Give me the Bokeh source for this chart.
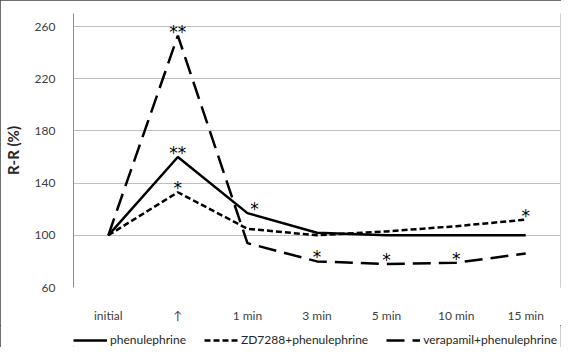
from bokeh.plotting import figure
from bokeh.layouts import column
from bokeh.models import Legend, LegendItem, FixedTicker, Range1d, ColumnDataSource
from bokeh.core.properties import value
from bokeh.embed import file_html
from bokeh.resources import INLINE

categories = ["initial", "\u2191", "1 min", "3 min", "5 min", "10 min", "15 min"]
phenulephrine = [100, 160, 117, 102, 100, 100, 100]
zd7288 = [100, 133, 105, 100, 103, 107, 112]
verapamil = [100, 253, 94, 80, 78, 79, 86]
y_ticks = [60, 100, 140, 180, 220, 260]
legend_labels = ["phenulephrine", "ZD7288+phenulephrine", "verapamil+phenulephrine"]

sig_series = ["verapamil", "phenulephrine", "zd7288", "phenulephrine",
              "zd7288", "verapamil", "verapamil", "verapamil"]
sig_category = ["\u2191", "\u2191", "\u2191", "1 min", "15 min", "3 min", "5 min", "10 min"]
sig_text = ["**", "**", "*", "*", "*", "*", "*", "*"]

FONT = "Lato"
series = {"phenulephrine": phenulephrine, "zd7288": zd7288, "verapamil": verapamil}
dashes = ["solid", "6 3", "18 8"]

p = figure(x_range=categories, y_range=Range1d(60, 270),
           width=561, height=325, output_backend="svg", toolbar_location=None,
           min_border_left=72, min_border_right=1, min_border_top=13, min_border_bottom=31)
p.outline_line_color = None
p.background_fill_color = "white"

for vals, d in zip([phenulephrine, zd7288, verapamil], dashes):
    p.line(categories, vals, line_color="black", line_width=2.5, line_dash=d)

sy = [series[s][categories.index(c)] for s, c in zip(sig_series, sig_category)]
xoff = [7 if c == "1 min" else 0 for c in sig_category]
src = ColumnDataSource(dict(x=sig_category, y=sy, t=sig_text, xo=xoff))
p.text(x="x", y="y", text="t", source=src, x_offset="xo", y_offset=-4,
       text_align="center", text_baseline="alphabetic", text_font=value("DejaVu Sans"),
       text_font_size="17px", text_color="black")

p.xgrid.grid_line_color = None
p.ygrid.grid_line_color = "#bfbfbf"
p.ygrid.grid_line_width = 1
p.yaxis.ticker = FixedTicker(ticks=y_ticks)
p.yaxis.axis_line_color = "#8c8c8c"
p.yaxis.major_tick_line_color = None
p.yaxis.minor_tick_line_color = None
p.yaxis.major_label_standoff = 12
p.yaxis.axis_label = "R-R (%)"
p.yaxis.axis_label_text_font = FONT
p.yaxis.axis_label_text_font_style = "bold"
p.yaxis.axis_label_text_font_size = "15px"
p.yaxis.axis_label_text_color = "#262626"
p.yaxis.axis_label_standoff = 10

p.xaxis.axis_line_color = None
p.xaxis.major_tick_line_color = None
p.xaxis.minor_tick_line_color = None
p.xaxis.major_label_standoff = 14

for ax in (p.xaxis, p.yaxis):
    ax.major_label_text_font = FONT
    ax.major_label_text_font_size = "12px"
    ax.major_label_text_color = "#404040"

# legend strip
p2 = figure(width=561, height=22, output_backend="svg", toolbar_location=None,
            x_axis_type=None, y_axis_type=None, min_border=0,
            x_range=Range1d(0, 1), y_range=Range1d(0, 1))
p2.outline_line_color = None
p2.grid.grid_line_color = None
items = []
for lab, d in zip(legend_labels, dashes):
    r = p2.line(x=[5, 6], y=[5, 6], line_color="black", line_width=2.5, line_dash=d)
    items.append(LegendItem(label=lab, renderers=[r]))
legend = Legend(items=items, orientation="horizontal", location=(0, 0),
                label_text_font=FONT, label_text_font_size="12px",
                label_text_color="#262626", glyph_width=34, glyph_height=14,
                label_height=14, label_standoff=3, spacing=18, border_line_color=None,
                background_fill_alpha=0, padding=0, margin=0)
p2.add_layout(legend, "center")

layout = column(p, p2, spacing=0)
layout.styles = {"outline": "1px solid #404040", "outline-offset": "-1px"}

open("out.html", "w").write(file_html(layout, INLINE))
